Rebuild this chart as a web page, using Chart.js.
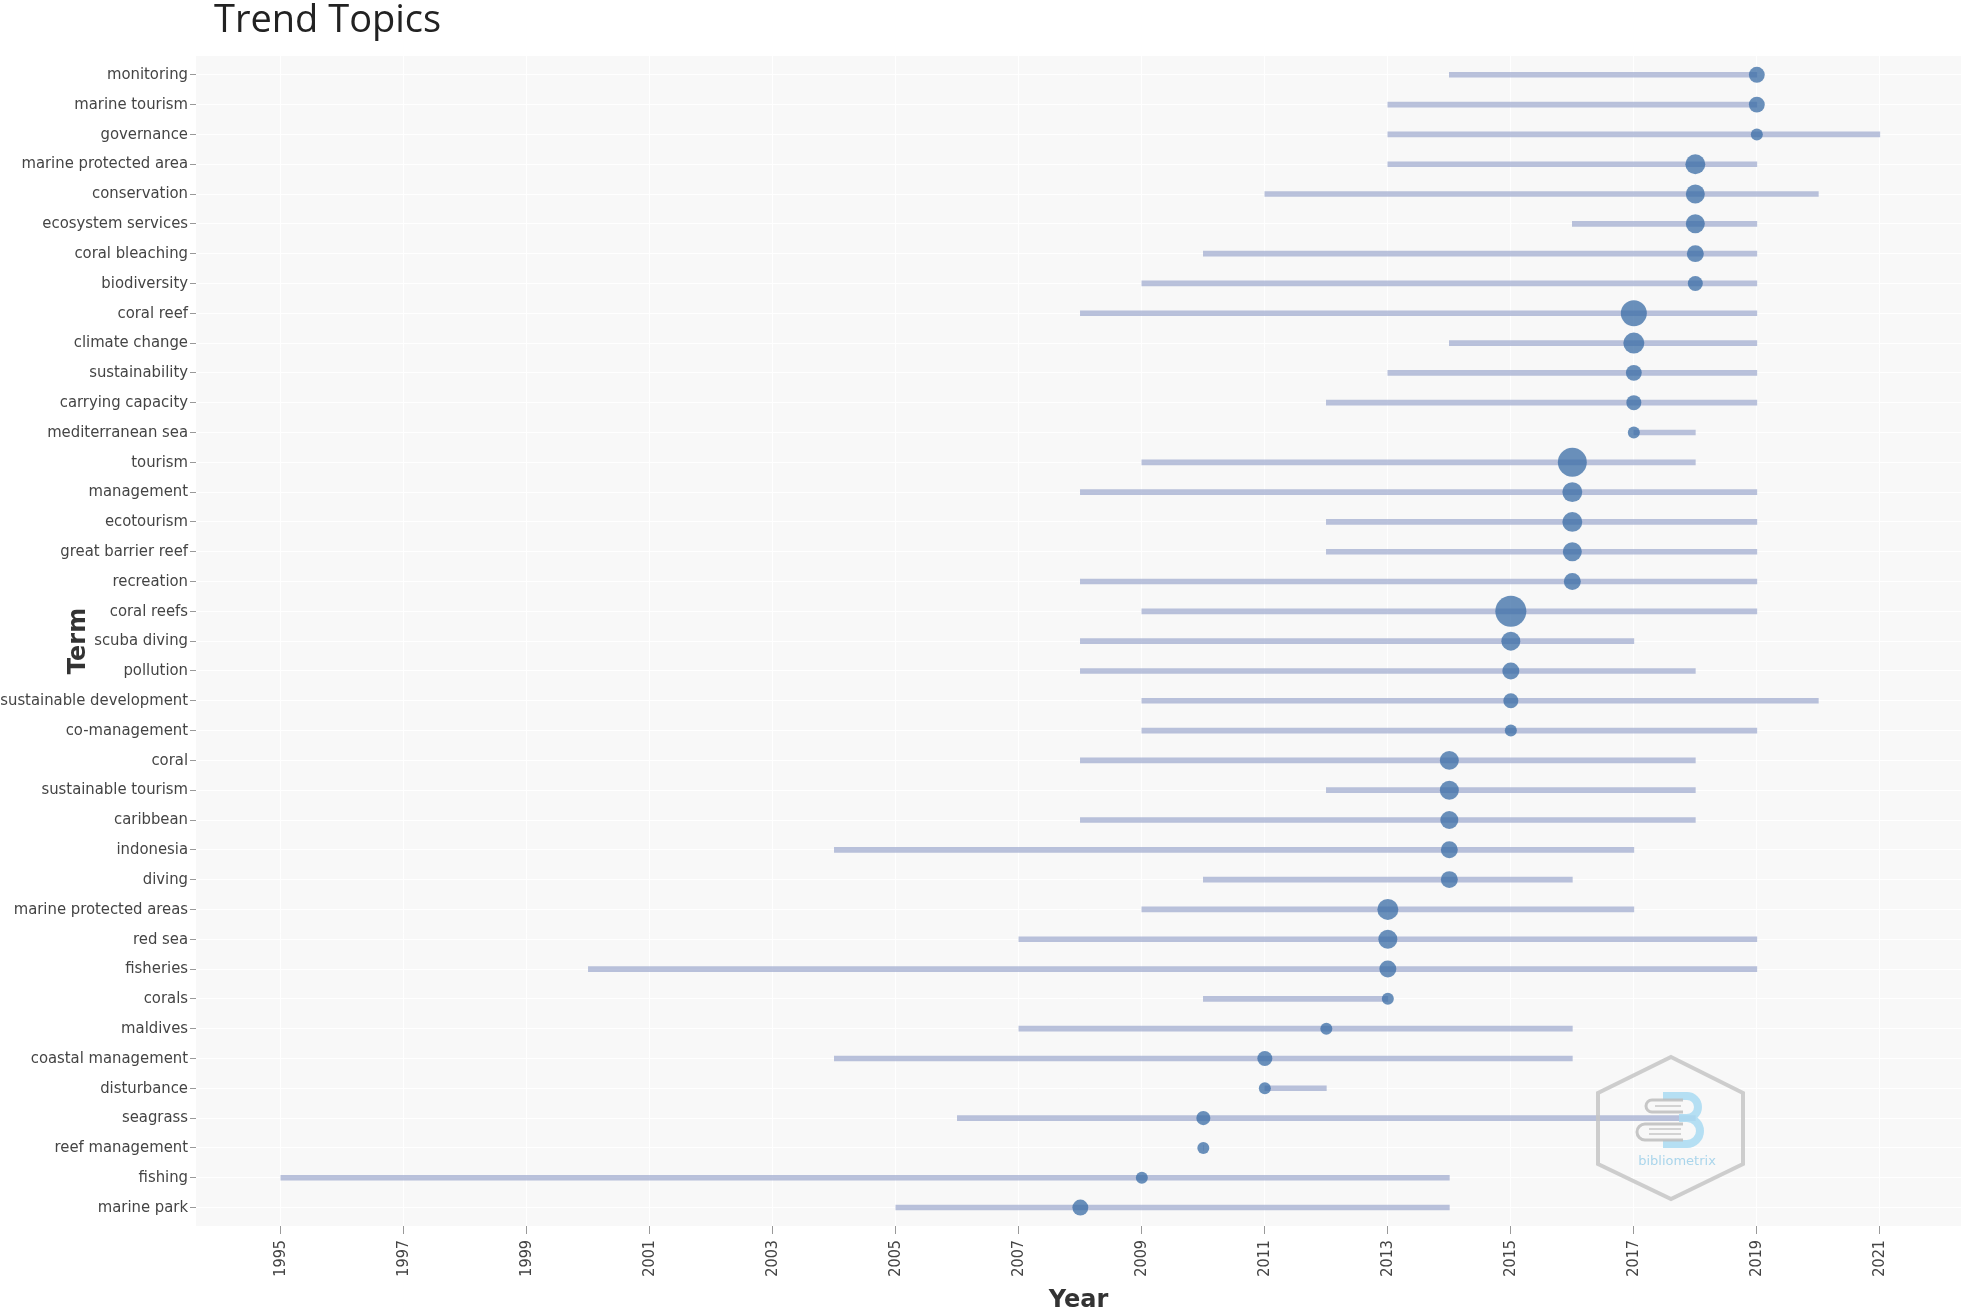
<!DOCTYPE html>
<html>
<head>
<meta charset="utf-8">
<title>Trend Topics</title>
<script src="https://cdn.jsdelivr.net/npm/chart.js@4.4.1/dist/chart.umd.min.js"></script>
<style>
  html, body { margin: 0; padding: 0; background: #fff; overflow: hidden; }
  canvas { display: block; }
</style>
</head>
<body>
<canvas id="myChart" width="1962" height="1310"></canvas>
<script>
// terms, top to bottom
let terms = ["monitoring", "marine tourism", "governance", "marine protected area", "conservation",
    "ecosystem services", "coral bleaching", "biodiversity", "coral reef", "climate change",
    "sustainability", "carrying capacity", "mediterranean sea", "tourism", "management",
    "ecotourism", "great barrier reef", "recreation", "coral reefs", "scuba diving",
    "pollution", "sustainable development", "co-management", "coral", "sustainable tourism",
    "caribbean", "indonesia", "diving", "marine protected areas", "red sea",
    "fisheries", "corals", "maldives", "coastal management", "disturbance",
    "seagrass", "reef management", "fishing", "marine park"];

// first year, last year (grey line) and median year (dot)
let yearStart = [2014, 2013, 2013, 2013, 2011, 2016, 2010, 2009, 2008, 2014,
    2013, 2012, 2017, 2009, 2008, 2012, 2012, 2008, 2009, 2008,
    2008, 2009, 2009, 2008, 2012, 2008, 2004, 2010, 2009, 2007,
    2000, 2010, 2007, 2004, 2011, 2006, 2010, 1995, 2005];
let yearEnd = [2019, 2019, 2021, 2019, 2020, 2019, 2019, 2019, 2019, 2019,
    2019, 2019, 2018, 2018, 2019, 2019, 2019, 2019, 2019, 2017,
    2018, 2020, 2019, 2018, 2018, 2018, 2017, 2016, 2017, 2019,
    2019, 2013, 2016, 2016, 2012, 2018, 2010, 2014, 2014];
let yearMedian = [2019, 2019, 2019, 2018, 2018, 2018, 2018, 2018, 2017, 2017,
    2017, 2017, 2017, 2016, 2016, 2016, 2016, 2016, 2015, 2015,
    2015, 2015, 2015, 2014, 2014, 2014, 2014, 2014, 2013, 2013,
    2013, 2013, 2012, 2011, 2011, 2010, 2010, 2009, 2008];
// term frequency (dot size), estimated
let freq = [28, 28, 16, 44, 40, 40, 32, 25, 75, 49,
    28, 25, 16, 93, 44, 44, 40, 32, 107, 40,
    32, 25, 16, 40, 40, 36, 32, 32, 49, 40,
    32, 16, 16, 25, 16, 22, 16, 16, 28];

let xTickYears = [1995, 1997, 1999, 2001, 2003, 2005, 2007, 2009, 2011, 2013, 2015, 2017, 2019, 2021];

let tickFont = '"DejaVu Sans Condensed", "DejaVu Sans", sans-serif';

// plot background + title + watermark
let decor = {
    id: 'decor',
    beforeDraw(chart) {
        let a = chart.chartArea;
        let c = chart.ctx;
        c.save();
        c.fillStyle = '#f8f8f8';
        c.fillRect(a.left, a.top, a.right - a.left, a.bottom - a.top);
        c.restore();
    },
    afterDraw(chart) {
        let a = chart.chartArea;
        let c = chart.ctx;
        c.save();
        // title
        c.fillStyle = '#222';
        c.font = '38px "Open Sans", sans-serif';
        c.textBaseline = 'alphabetic';
        c.fillText('Trend Topics', 214, 32);

        // bibliometrix logo
        let cx = a.right - 290, cy = a.bottom - 98;
        c.globalAlpha = 0.85;
        c.strokeStyle = '#c6c6c6';
        c.lineWidth = 4;
        c.beginPath();
        c.moveTo(cx, cy - 71);
        c.lineTo(cx + 72, cy - 35);
        c.lineTo(cx + 72, cy + 36);
        c.lineTo(cx, cy + 71);
        c.lineTo(cx - 73, cy + 36);
        c.lineTo(cx - 73, cy - 35);
        c.closePath();
        c.stroke();

        // blue B
        c.strokeStyle = '#a9dbf2';
        c.lineWidth = 8;
        c.beginPath();
        c.moveTo(cx - 8, cy - 32);
        c.lineTo(cx + 16, cy - 32);
        c.arc(cx + 16, cy - 21, 11, -Math.PI / 2, Math.PI / 2);
        c.lineTo(cx + 8, cy - 10);
        c.moveTo(cx + 8, cy - 10);
        c.lineTo(cx + 16, cy - 10);
        c.arc(cx + 16, cy + 3, 13, -Math.PI / 2, Math.PI / 2);
        c.lineTo(cx - 8, cy + 16);
        c.stroke();

        // grey books
        c.strokeStyle = '#bdbdbd';
        c.lineWidth = 3;
        c.beginPath();
        c.moveTo(cx + 12, cy - 28);
        c.lineTo(cx - 19, cy - 28);
        c.arc(cx - 19, cy - 22, 6, -Math.PI / 2, Math.PI / 2, true);
        c.lineTo(cx + 12, cy - 16);
        c.moveTo(cx + 12, cy - 4);
        c.lineTo(cx - 26, cy - 4);
        c.arc(cx - 26, cy + 4, 8, -Math.PI / 2, Math.PI / 2, true);
        c.lineTo(cx + 12, cy + 12);
        c.stroke();
        c.lineWidth = 1.5;
        c.beginPath();
        c.moveTo(cx - 16, cy - 22); c.lineTo(cx + 10, cy - 22);
        c.moveTo(cx - 22, cy + 1); c.lineTo(cx + 10, cy + 1);
        c.moveTo(cx - 22, cy + 6); c.lineTo(cx + 10, cy + 6);
        c.stroke();

        // text
        c.fillStyle = '#9ccfe9';
        c.font = '13px "DejaVu Sans", sans-serif';
        c.textAlign = 'center';
        c.textBaseline = 'middle';
        c.fillText('bibliometrix', cx + 6, cy + 34);
        c.restore();
    }
};

let lineData = terms.map((t, i) => ({ x: [yearStart[i], yearEnd[i]], y: i }));
let dotData = terms.map((t, i) => ({ x: yearMedian[i], y: i, r: Math.sqrt(freq[i]) * 1.5 }));

let config = {
    type: 'bar',
    data: {
        datasets: [
            {
                type: 'bubble',
                label: 'median year',
                data: dotData,
                backgroundColor: 'rgba(58, 108, 166, 0.75)',
                borderWidth: 0,
                order: 0
            },
            {
                type: 'bar',
                label: 'period',
                indexAxis: 'y',
                data: lineData,
                backgroundColor: 'rgba(160, 170, 206, 0.72)',
                borderWidth: 0,
                barThickness: 5,
                order: 1
            }
        ]
    },
    options: {
        indexAxis: 'y',
        responsive: false,
        animation: false,
        events: [],
        layout: { autoPadding: false, padding: { top: 56, right: 1, left: 0, bottom: 0 } },
        plugins: {
            legend: { display: false },
            tooltip: { enabled: false }
        },
        scales: {
            x: {
                type: 'linear',
                position: 'bottom',
                offset: false,
                beginAtZero: false,
                min: 1993.62,
                max: 2022.32,
                afterBuildTicks(scale) {
                    scale.ticks = xTickYears.map(v => ({ value: v }));
                },
                afterFit(scale) {
                    scale.height = 84;
                    scale.paddingLeft = 0;
                    scale.paddingRight = 0;
                },
                border: { display: false },
                grid: { color: '#ffffff', lineWidth: 1, offset: false, tickColor: '#999', tickLength: 8 },
                ticks: {
                    autoSkip: false,
                    minRotation: 90,
                    maxRotation: 90,
                    padding: 6,
                    color: '#444',
                    font: { family: tickFont, size: 16 },
                    callback: v => String(v)
                },
                title: {
                    display: true,
                    text: 'Year',
                    color: '#333',
                    font: { family: '"DejaVu Sans", sans-serif', size: 24, weight: 'bold' },
                    padding: { top: 0, bottom: -5 }
                }
            },
            y: {
                type: 'linear',
                reverse: true,
                offset: false,
                min: -0.63,
                max: 38.62,
                afterBuildTicks(scale) {
                    scale.ticks = terms.map((t, i) => ({ value: i }));
                },
                afterFit(scale) {
                    scale.width = 196;
                    scale.paddingTop = 0;
                    scale.paddingBottom = 0;
                },
                border: { display: false },
                grid: { color: '#ffffff', lineWidth: 1, offset: false, tickColor: '#999', tickLength: 6 },
                ticks: {
                    autoSkip: false,
                    padding: 2,
                    color: '#444',
                    font: { family: tickFont, size: 16.5 },
                    callback: v => terms[v]
                },
                title: {
                    display: true,
                    text: 'Term',
                    color: '#333',
                    font: { family: '"DejaVu Sans", sans-serif', size: 24, weight: 'bold' },
                    padding: { top: 64, bottom: 0 }
                }
            }
        }
    },
    plugins: [decor]
};

let ctx = document.getElementById('myChart');
new Chart(ctx, config);
</script>
</body>
</html>
